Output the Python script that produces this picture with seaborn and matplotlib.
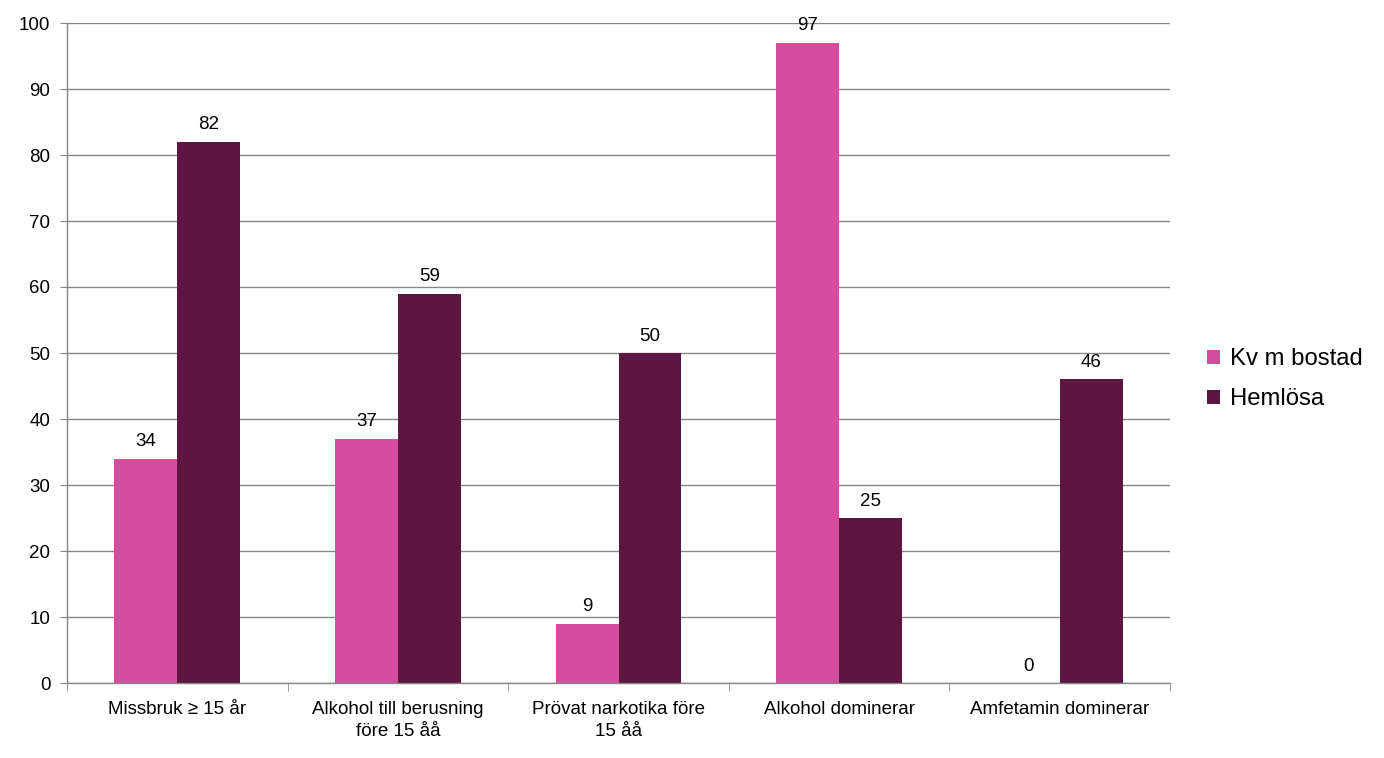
import matplotlib
matplotlib.use("Agg")
import matplotlib.pyplot as plt
import seaborn as sns
import pandas as pd
from matplotlib.ticker import FixedLocator, MultipleLocator

categories = ["Missbruk \u2265 15 år", "Alkohol till berusning\nföre 15 åå",
              "Prövat narkotika före\n15 åå", "Alkohol dominerar", "Amfetamin dominerar"]
series_names = ["Kv m bostad", "Hemlösa"]
kv_m_bostad = [34, 37, 9, 97, 0]
hemlosa = [82, 59, 50, 25, 46]
colors = ["#D64DA0", "#5C1640"]

df = pd.DataFrame({
    "cat": categories * 2,
    "val": kv_m_bostad + hemlosa,
    "grp": [series_names[0]] * 5 + [series_names[1]] * 5,
})

sns.set_style("white")
plt.rcParams["font.family"] = ["Liberation Sans", "DejaVu Sans"]
plt.rcParams["text.color"] = "black"
plt.rcParams["xtick.labelcolor"] = "black"
plt.rcParams["ytick.labelcolor"] = "black"

fig = plt.figure(figsize=(13.84, 7.58), dpi=100)
ax = fig.add_axes([67/1384, 1-683/758, (1170-67)/1384, (683-23)/758])

sns.barplot(data=df, x="cat", y="val", hue="grp", palette=colors, width=0.57,
            ax=ax, saturation=1, legend=True, linewidth=0, edgecolor="none")

for c in ax.containers:
    ax.bar_label(c, fmt="%d", padding=6, fontsize=13.5, color="black")

ax.set_ylim(0, 100)
ax.set_xlim(-0.5, 4.5)
ax.yaxis.set_major_locator(MultipleLocator(10))
ax.grid(axis="y", color="#868686", linewidth=1)
ax.set_axisbelow(True)
ax.set_xlabel("")
ax.set_ylabel("")

for s in ["top", "right"]:
    ax.spines[s].set_visible(False)
for s in ["left", "bottom"]:
    ax.spines[s].set_color("#868686")
    ax.spines[s].set_linewidth(1)

ax.tick_params(axis="y", which="major", length=5, color="#868686", labelsize=13.5, pad=7, left=True, labelcolor="black")
ax.tick_params(axis="x", which="major", length=0, labelsize=13.5, pad=13, labelcolor="black")
ax.xaxis.set_minor_locator(FixedLocator([-0.5, 0.5, 1.5, 2.5, 3.5, 4.5]))
ax.tick_params(axis="x", which="minor", length=6, color="#868686", bottom=True)
for lbl in ax.get_xticklabels():
    lbl.set_multialignment("center")
    lbl.set_linespacing(1.35)

leg = ax.legend(loc="center left", bbox_to_anchor=(1.018, 0.46), frameon=False,
                fontsize=17.2, handlelength=0.55, handleheight=0.55, handletextpad=0.42,
                labelspacing=0.75, borderaxespad=0.3)
for t in leg.get_texts():
    t.set_color("black")

fig.savefig("out.png", dpi=100)
